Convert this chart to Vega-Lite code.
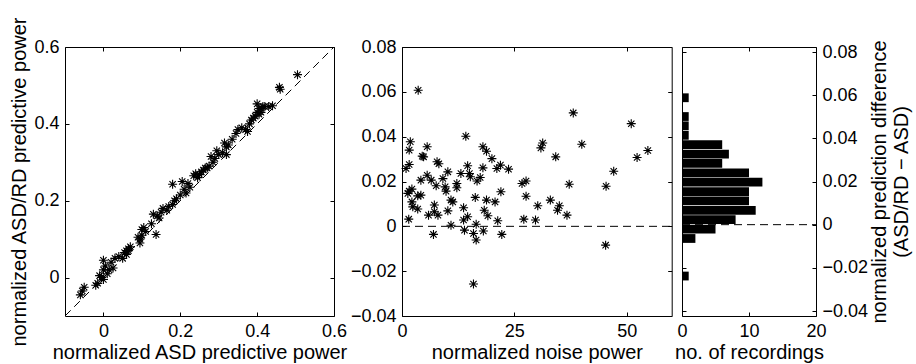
{
  "$schema": "https://vega.github.io/schema/vega-lite/v6.json",
  "background": "white",
  "padding": {"left": 9, "top": 15, "right": 5, "bottom": 5},
  "spacing": 68,
  "bounds": "flush",
  "config": {
    "font": "Liberation Sans",
    "view": {"stroke": "black", "strokeWidth": 1},
    "axis": {
      "domain": false, "grid": false, "tickColor": "black", "tickSize": -4, "tickWidth": 1,
      "labelFontSize": 18, "labelColor": "black", "labelFont": "Liberation Sans",
      "titleFontSize": 20, "titleFontWeight": "normal", "titleColor": "black", "titleFont": "Liberation Sans",
      "labelPadding": 10, "labelFlush": false, "labelOverlap": false
    },
    "axisX": {"titlePadding": 2}
  },
  "hconcat": [
    {
      "width": 269, "height": 269,
      "layer": [
        {
          "data": {"values": [{"asd": -0.1, "asdrd": -0.1}, {"asd": 0.6, "asdrd": 0.6}]},
          "mark": {"type": "line", "color": "black", "strokeWidth": 1, "strokeDash": [8, 5]},
          "encoding": {
            "x": {"field": "asd", "type": "quantitative", "scale": {"domain": [-0.1, 0.6], "nice": false, "zero": false},
                  "axis": {"orient": "top", "labels": false, "title": null, "values": [0, 0.2, 0.4, 0.6]}},
            "y": {"field": "asdrd", "type": "quantitative", "scale": {"domain": [-0.1, 0.6], "nice": false, "zero": false},
                  "axis": {"orient": "right", "labels": false, "title": null, "values": [0, 0.2, 0.4, 0.6]}}
          }
        },
        {
          "data": {"values": [
            {"asd": -0.055, "asdrd": -0.035}, {"asd": -0.05, "asdrd": -0.025}, {"asd": -0.06, "asdrd": -0.045}, {"asd": -0.02, "asdrd": -0.02},
            {"asd": -0.015, "asdrd": -0.015}, {"asd": -0.005, "asdrd": 0.0}, {"asd": 0.0, "asdrd": 0.02}, {"asd": 0.0, "asdrd": 0.045},
            {"asd": 0.005, "asdrd": 0.03}, {"asd": 0.01, "asdrd": 0.01}, {"asd": 0.02, "asdrd": 0.04}, {"asd": 0.025, "asdrd": 0.025},
            {"asd": 0.03, "asdrd": 0.05}, {"asd": -0.01, "asdrd": 0.005}, {"asd": 0.015, "asdrd": 0.02}, {"asd": 0.0, "asdrd": -0.005},
            {"asd": 0.05, "asdrd": 0.05}, {"asd": 0.055, "asdrd": 0.065}, {"asd": 0.06, "asdrd": 0.07}, {"asd": 0.065, "asdrd": 0.075},
            {"asd": 0.06, "asdrd": 0.06}, {"asd": 0.07, "asdrd": 0.08}, {"asd": 0.065, "asdrd": 0.07}, {"asd": 0.04, "asdrd": 0.055},
            {"asd": 0.095, "asdrd": 0.1}, {"asd": 0.1, "asdrd": 0.11}, {"asd": 0.1, "asdrd": 0.125}, {"asd": 0.105, "asdrd": 0.13},
            {"asd": 0.095, "asdrd": 0.09}, {"asd": 0.11, "asdrd": 0.12}, {"asd": 0.09, "asdrd": 0.105}, {"asd": 0.137, "asdrd": 0.112},
            {"asd": 0.125, "asdrd": 0.14}, {"asd": 0.13, "asdrd": 0.165}, {"asd": 0.14, "asdrd": 0.16}, {"asd": 0.15, "asdrd": 0.17},
            {"asd": 0.155, "asdrd": 0.18}, {"asd": 0.165, "asdrd": 0.175}, {"asd": 0.17, "asdrd": 0.185}, {"asd": 0.145, "asdrd": 0.155},
            {"asd": 0.18, "asdrd": 0.243}, {"asd": 0.18, "asdrd": 0.19}, {"asd": 0.185, "asdrd": 0.2}, {"asd": 0.2, "asdrd": 0.215},
            {"asd": 0.205, "asdrd": 0.25}, {"asd": 0.21, "asdrd": 0.23}, {"asd": 0.215, "asdrd": 0.22}, {"asd": 0.22, "asdrd": 0.245},
            {"asd": 0.225, "asdrd": 0.235}, {"asd": 0.19, "asdrd": 0.205}, {"asd": 0.235, "asdrd": 0.265}, {"asd": 0.24, "asdrd": 0.27},
            {"asd": 0.25, "asdrd": 0.268}, {"asd": 0.255, "asdrd": 0.275}, {"asd": 0.26, "asdrd": 0.28}, {"asd": 0.27, "asdrd": 0.285},
            {"asd": 0.275, "asdrd": 0.29}, {"asd": 0.28, "asdrd": 0.315}, {"asd": 0.285, "asdrd": 0.3}, {"asd": 0.265, "asdrd": 0.285},
            {"asd": 0.245, "asdrd": 0.26}, {"asd": 0.295, "asdrd": 0.33}, {"asd": 0.3, "asdrd": 0.32}, {"asd": 0.31, "asdrd": 0.325},
            {"asd": 0.315, "asdrd": 0.35}, {"asd": 0.32, "asdrd": 0.34}, {"asd": 0.32, "asdrd": 0.32}, {"asd": 0.325, "asdrd": 0.345},
            {"asd": 0.29, "asdrd": 0.31}, {"asd": 0.335, "asdrd": 0.36}, {"asd": 0.345, "asdrd": 0.375}, {"asd": 0.35, "asdrd": 0.385},
            {"asd": 0.36, "asdrd": 0.39}, {"asd": 0.37, "asdrd": 0.385}, {"asd": 0.375, "asdrd": 0.38}, {"asd": 0.38, "asdrd": 0.4},
            {"asd": 0.385, "asdrd": 0.41}, {"asd": 0.39, "asdrd": 0.415}, {"asd": 0.395, "asdrd": 0.42}, {"asd": 0.4, "asdrd": 0.43},
            {"asd": 0.4, "asdrd": 0.452}, {"asd": 0.405, "asdrd": 0.44}, {"asd": 0.41, "asdrd": 0.44}, {"asd": 0.415, "asdrd": 0.445},
            {"asd": 0.42, "asdrd": 0.445}, {"asd": 0.43, "asdrd": 0.445}, {"asd": 0.44, "asdrd": 0.447}, {"asd": 0.405, "asdrd": 0.425},
            {"asd": 0.41, "asdrd": 0.43}, {"asd": 0.46, "asdrd": 0.49}, {"asd": 0.458, "asdrd": 0.495}, {"asd": 0.505, "asdrd": 0.528}
          ]},
          "mark": {"type": "point", "shape": "M-1,0L1,0M0,-1L0,1M-0.7,-0.7L0.7,0.7M-0.7,0.7L0.7,-0.7", "filled": false, "color": "black", "strokeWidth": 1.1, "size": 81, "opacity": 1},
          "encoding": {
            "x": {"field": "asd", "type": "quantitative", "scale": {"domain": [-0.1, 0.6], "nice": false, "zero": false},
                  "axis": {"orient": "bottom", "title": "normalized ASD predictive power", "values": [0, 0.2, 0.4, 0.6],
                           "labelExpr": "datum.value == 0 ? '0' : format(datum.value, '.1f')"}},
            "y": {"field": "asdrd", "type": "quantitative", "scale": {"domain": [-0.1, 0.6], "nice": false, "zero": false},
                  "axis": {"orient": "left", "title": "normalized ASD/RD predictive power", "values": [0, 0.2, 0.4, 0.6],
                           "labelExpr": "datum.value == 0 ? '0' : format(datum.value, '.1f')"}}
          }
        }
      ],
      "resolve": {"axis": {"x": "independent", "y": "independent"}}
    },
    {
      "spacing": 10,
      "bounds": "flush",
      "hconcat": [
        {
          "width": 269.7, "height": 269,
          "layer": [
            {
              "data": {"values": [{"noise": 0, "diff": 0}, {"noise": 60, "diff": 0}]},
              "mark": {"type": "line", "color": "black", "strokeWidth": 1, "strokeDash": [8, 5]},
              "encoding": {
                "x": {"field": "noise", "type": "quantitative", "scale": {"domain": [0, 60], "nice": false},
                      "axis": {"orient": "top", "labels": false, "title": null, "values": [0, 25, 50]}},
                "y": {"field": "diff", "type": "quantitative", "scale": {"domain": [-0.04, 0.08], "nice": false, "zero": false},
                      "axis": {"orient": "right", "labels": false, "title": null, "values": [-0.04, -0.02, 0, 0.02, 0.04, 0.06, 0.08]}}
              }
            },
            {
              "data": {"values": [
                {"noise": 3.6, "diff": 0.0607}, {"noise": 38.1, "diff": 0.0506}, {"noise": 51.0, "diff": 0.0458}, {"noise": 14.2, "diff": 0.0402},
                {"noise": 1.85, "diff": 0.0377}, {"noise": 31.3, "diff": 0.0372}, {"noise": 30.9, "diff": 0.035}, {"noise": 40.0, "diff": 0.0366},
                {"noise": 54.7, "diff": 0.0338}, {"noise": 1.6, "diff": 0.034}, {"noise": 5.6, "diff": 0.0355}, {"noise": 18.0, "diff": 0.0355},
                {"noise": 18.8, "diff": 0.0335}, {"noise": 52.3, "diff": 0.0307}, {"noise": 34.2, "diff": 0.031}, {"noise": 4.5, "diff": 0.0313},
                {"noise": 4.8, "diff": 0.031}, {"noise": 20.0, "diff": 0.0302}, {"noise": 1.6, "diff": 0.0276}, {"noise": 0.9, "diff": 0.0258},
                {"noise": 7.8, "diff": 0.0288}, {"noise": 8.2, "diff": 0.0279}, {"noise": 14.6, "diff": 0.027}, {"noise": 21.9, "diff": 0.0273},
                {"noise": 23.7, "diff": 0.0255}, {"noise": 21.1, "diff": 0.0258}, {"noise": 18.0, "diff": 0.0261}, {"noise": 47.1, "diff": 0.0246},
                {"noise": 10.2, "diff": 0.0243}, {"noise": 13.1, "diff": 0.0236}, {"noise": 15.0, "diff": 0.0236}, {"noise": 5.6, "diff": 0.0228},
                {"noise": 15.2, "diff": 0.0221}, {"noise": 17.4, "diff": 0.0218}, {"noise": 4.2, "diff": 0.0206}, {"noise": 6.5, "diff": 0.0206},
                {"noise": 9.1, "diff": 0.0213}, {"noise": 16.7, "diff": 0.0202}, {"noise": 27.6, "diff": 0.0202}, {"noise": 26.7, "diff": 0.0191},
                {"noise": 12.2, "diff": 0.0191}, {"noise": 37.2, "diff": 0.0188}, {"noise": 7.6, "diff": 0.0181}, {"noise": 9.6, "diff": 0.0176},
                {"noise": 12.2, "diff": 0.0172}, {"noise": 45.4, "diff": 0.0179}, {"noise": 1.6, "diff": 0.0157}, {"noise": 2.2, "diff": 0.0166},
                {"noise": 9.8, "diff": 0.0157}, {"noise": 22.0, "diff": 0.0154}, {"noise": 1.3, "diff": 0.0147}, {"noise": 4.2, "diff": 0.0139},
                {"noise": 3.5, "diff": 0.0136}, {"noise": 27.6, "diff": 0.0134}, {"noise": 16.3, "diff": 0.0129}, {"noise": 10.9, "diff": 0.0117},
                {"noise": 18.8, "diff": 0.0117}, {"noise": 33.0, "diff": 0.0117}, {"noise": 2.2, "diff": 0.0109}, {"noise": 20.7, "diff": 0.0109},
                {"noise": 11.3, "diff": 0.0109}, {"noise": 35.0, "diff": 0.0092}, {"noise": 30.2, "diff": 0.0092}, {"noise": 7.2, "diff": 0.0095},
                {"noise": 13.7, "diff": 0.0083}, {"noise": 2.4, "diff": 0.0087}, {"noise": 3.5, "diff": 0.0077}, {"noise": 10.2, "diff": 0.0069},
                {"noise": 18.3, "diff": 0.0072}, {"noise": 34.6, "diff": 0.0072}, {"noise": 7.2, "diff": 0.0065}, {"noise": 8.0, "diff": 0.005},
                {"noise": 5.9, "diff": 0.005}, {"noise": 19.1, "diff": 0.0047}, {"noise": 36.7, "diff": 0.005}, {"noise": 14.6, "diff": 0.0043},
                {"noise": 1.5, "diff": 0.0032}, {"noise": 27.1, "diff": 0.0032}, {"noise": 29.7, "diff": 0.0028}, {"noise": 13.7, "diff": 0.0028},
                {"noise": 21.3, "diff": 0.0025}, {"noise": 10.9, "diff": 0.0005}, {"noise": 16.5, "diff": 0.0009}, {"noise": 13.9, "diff": -0.0017},
                {"noise": 15.9, "diff": -0.0032}, {"noise": 18.1, "diff": -0.0021}, {"noise": 7.0, "diff": -0.0036}, {"noise": 22.2, "diff": -0.0036},
                {"noise": 16.5, "diff": -0.0061}, {"noise": 45.3, "diff": -0.0084}, {"noise": 15.9, "diff": -0.0257}
              ]},
              "mark": {"type": "point", "shape": "M-1,0L1,0M0,-1L0,1M-0.7,-0.7L0.7,0.7M-0.7,0.7L0.7,-0.7", "filled": false, "color": "black", "strokeWidth": 1.1, "size": 81, "opacity": 1},
              "encoding": {
                "x": {"field": "noise", "type": "quantitative", "scale": {"domain": [0, 60], "nice": false},
                      "axis": {"orient": "bottom", "title": "normalized noise power", "values": [0, 25, 50]}},
                "y": {"field": "diff", "type": "quantitative", "scale": {"domain": [-0.04, 0.08], "nice": false, "zero": false},
                      "axis": {"orient": "left", "title": null, "values": [-0.04, -0.02, 0, 0.02, 0.04, 0.06, 0.08],
                               "labelExpr": "datum.value == 0 ? '0' : format(datum.value, '.2f')"}}
              }
            }
          ],
          "resolve": {"axis": {"x": "independent", "y": "independent"}}
        },
        {
          "width": 134, "height": 269,
          "layer": [
            {
              "data": {"values": [{"count": 0, "center": 0}, {"count": 20, "center": 0}]},
              "mark": {"type": "line", "color": "black", "strokeWidth": 1, "strokeDash": [8, 5]},
              "encoding": {
                "x": {"field": "count", "type": "quantitative", "scale": {"domain": [0, 20], "nice": false},
                      "axis": {"orient": "top", "labels": false, "title": null, "values": [0, 10, 20]}},
                "y": {"field": "center", "type": "quantitative", "scale": {"domain": [-0.04, 0.08], "nice": false, "zero": false},
                      "axis": {"orient": "left", "labels": false, "title": null, "values": [-0.04, -0.02, 0, 0.02, 0.04, 0.06, 0.08]}}
              }
            },
            {
              "data": {"values": [
                {"center": -0.0238, "count": 1}, {"center": -0.0064, "count": 2}, {"center": -0.0021, "count": 5}, {"center": 0.0023, "count": 8},
                {"center": 0.0066, "count": 11}, {"center": 0.011, "count": 10}, {"center": 0.0153, "count": 10}, {"center": 0.0197, "count": 12},
                {"center": 0.024, "count": 10}, {"center": 0.0284, "count": 6}, {"center": 0.0327, "count": 7}, {"center": 0.0371, "count": 6},
                {"center": 0.0414, "count": 1}, {"center": 0.0458, "count": 1}, {"center": 0.0501, "count": 1}, {"center": 0.0588, "count": 1}
              ]},
              "mark": {"type": "bar", "orient": "horizontal", "size": 8.8, "color": "black"},
              "encoding": {
                "x": {"field": "count", "type": "quantitative", "scale": {"domain": [0, 20], "nice": false},
                      "axis": {"orient": "bottom", "title": "no. of recordings", "values": [0, 10, 20]}},
                "y": {"field": "center", "type": "quantitative", "scale": {"domain": [-0.04, 0.08], "nice": false, "zero": false},
                      "axis": {"orient": "right", "title": ["normalized prediction difference", "(ASD/RD − ASD)"],
                               "titleAngle": 270, "titleBaseline": "top", "titleLineHeight": 22, "titlePadding": -20,
                               "values": [-0.04, -0.02, 0, 0.02, 0.04, 0.06, 0.08],
                               "labelExpr": "datum.value == 0 ? '0' : format(datum.value, '.2f')"}}
              }
            }
          ],
          "resolve": {"axis": {"x": "independent", "y": "independent"}}
        }
      ]
    }
  ]
}
